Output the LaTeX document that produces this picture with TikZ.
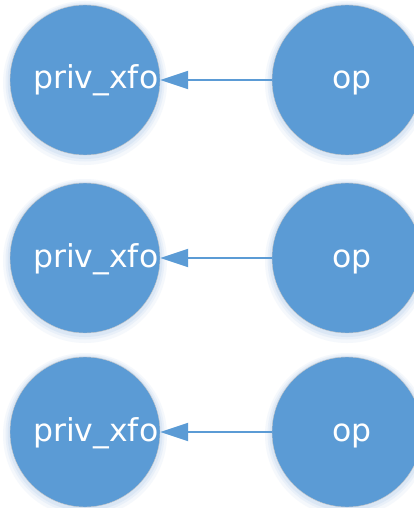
\documentclass[tikz,border=0pt]{standalone}
\usepackage{fontspec}
\setmainfont{DejaVu Sans}
\usetikzlibrary{arrows.meta}
\definecolor{nodeblue}{HTML}{5B9BD5}
\definecolor{halo}{HTML}{BCD4EE}
\tikzset{
  ball/.style={circle, fill=nodeblue, draw=black!22, line width=0.4pt,
    minimum size=150pt, inner sep=0pt},
  lbl/.style={text=white, font=\fontsize{31.5}{31.5}\selectfont, inner sep=0pt},
  link/.style={draw=nodeblue, line width=2pt, -{Triangle[length=28pt,width=18pt]}},
  glow/.style={fill=halo, draw=none}
}
\begin{document}
\begin{tikzpicture}[x=1pt,y=-1pt]
\useasboundingbox (0,0) rectangle (414,508);
\fill[white] (0,0) rectangle (414,508);
\begin{scope}
\clip (0,0) rectangle (414,508);
\foreach \i/\y in {1/80,2/258,3/432}{
  \foreach \cx in {85,347}{
    \fill[glow, opacity=0.15] (\cx,\y+3) circle (82);
    \fill[glow, opacity=0.2] (\cx,\y+2) circle (79.5);
    \fill[glow, opacity=0.3] (\cx,\y+1.5) circle (77.5);
  }
  \node[ball] (L\i) at (85,\y) {};
  \node[ball] (R\i) at (347,\y) {};
  \node[lbl, anchor=base west] (tL\i) at (33,\y+9) {priv\_xfo};
  \node[lbl, anchor=base] (tR\i) at (352,\y+9) {op};
  \draw[link] (R\i.west) -- (L\i.east);
}
\end{scope}
\end{tikzpicture}
\end{document}
